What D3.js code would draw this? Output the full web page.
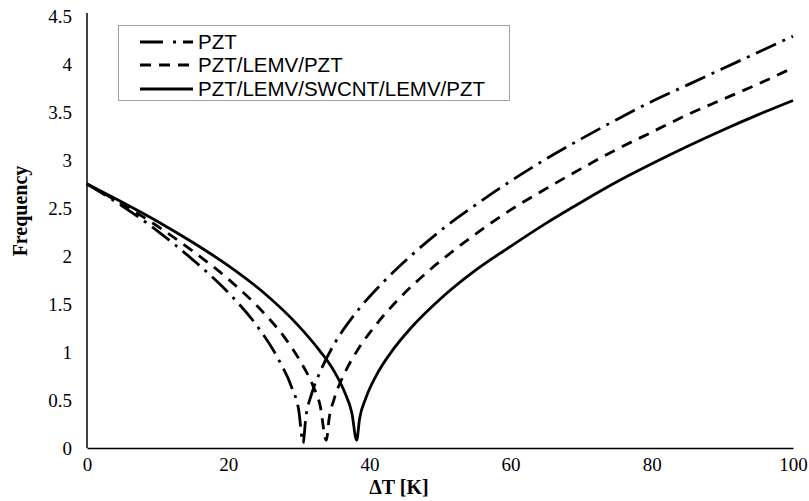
<!DOCTYPE html>
<html lang="en">
<head>
  <meta charset="utf-8">
  <title>Frequency vs temperature rise</title>
  <style>
  body { margin: 0; background: #fff; }
  .axis path { stroke: #000; stroke-width: 1.5px; }
  .axis line { display: none; }
  .axis text { font-family: "Liberation Serif", "Times New Roman", serif; font-size: 19px; fill: #000; }
  .curve { fill: none; stroke: #000; stroke-width: 2.8px; }
  </style>
  <script src="https://cdn.jsdelivr.net/npm/d3@7"></script>
</head>
<body>
  <svg width="809" height="501"></svg>
  <script>
  // [deltaT, frequency]
  var pzt = [
    [0, 2.75], [5, 2.52], [10, 2.26], [15, 1.96], [20, 1.62], [24, 1.28], [27, 0.94],
    [29, 0.63], [30, 0.39], [30.6, 0.05],
    [31, 0.32], [31.8, 0.56], [33, 0.79], [35, 1.08], [38, 1.40], [42, 1.73], [46, 2.01],
    [50, 2.26], [55, 2.53], [60, 2.78], [65, 3.01], [70, 3.22], [75, 3.42], [80, 3.61],
    [85, 3.78], [90, 3.95], [95, 4.12], [100, 4.29]
  ];
  var pztLemv = [
    [0, 2.75], [5, 2.54], [10, 2.31], [15, 2.05], [20, 1.76], [25, 1.41], [28, 1.15],
    [30, 0.93], [32, 0.65], [33, 0.45], [33.9, 0.08],
    [34.3, 0.31], [35, 0.51], [36.5, 0.78], [38.5, 1.04], [41, 1.29], [44, 1.54], [48, 1.82],
    [52, 2.06], [56, 2.28], [60, 2.48], [65, 2.70], [70, 2.91], [75, 3.11], [80, 3.29],
    [85, 3.47], [90, 3.63], [95, 3.79], [100, 3.96]
  ];
  var pztSwcnt = [
    [0, 2.75], [5, 2.56], [10, 2.36], [15, 2.14], [20, 1.90], [25, 1.62], [30, 1.27],
    [33, 1.01], [35, 0.80], [36.5, 0.58], [37.5, 0.37], [38.2, 0.08],
    [38.6, 0.30], [39.5, 0.52], [41, 0.76], [43, 0.99], [46, 1.26], [50, 1.55], [55, 1.85],
    [60, 2.10], [65, 2.34], [70, 2.56], [75, 2.77], [80, 2.96], [85, 3.14], [90, 3.31],
    [95, 3.47], [100, 3.62]
  ];

  var seriesNames = ["PZT", "PZT/LEMV/PZT", "PZT/LEMV/SWCNT/LEMV/PZT"];
  var seriesData = [pzt, pztLemv, pztSwcnt];
  var dashes = ["22,7,3,7", "11,8", null];

  var xTicks = [0, 20, 40, 60, 80, 100];
  var yTicks = [0, 0.5, 1, 1.5, 2, 2.5, 3, 3.5, 4, 4.5];

  var svg = d3.select("svg");

  var x = d3.scaleLinear().domain([0, 100]).range([87, 793]);
  var y = d3.scaleLinear().domain([0, 4.5]).range([448, 16]);

  svg.append("g")
      .attr("class", "axis axis--x")
      .attr("transform", "translate(0,448)")
      .call(d3.axisBottom(x).tickValues(xTicks).tickSize(0).tickSizeOuter(0).tickPadding(10).tickFormat(d3.format("d")));

  svg.append("g")
      .attr("class", "axis axis--y")
      .attr("transform", "translate(87,0)")
      .call(d3.axisLeft(y).tickValues(yTicks).tickSize(0).tickSizeOuter(0).tickPadding(15).tickFormat(function(d) { return d; }));

  svg.select(".axis--y path").attr("d", "M0," + (y(4.5) - 3) + "V" + y(0));

  var line = d3.line()
      .x(function(d) { return x(d[0]); })
      .y(function(d) { return y(d[1]); })
      .curve(d3.curveMonotoneX);

  svg.selectAll(".curve")
      .data(seriesData)
    .enter().append("path")
      .attr("class", "curve")
      .attr("stroke-dasharray", function(d, i) { return dashes[i]; })
      .attr("d", line);

  svg.append("text")
      .attr("transform", "translate(27,211) rotate(-90)")
      .attr("text-anchor", "middle")
      .attr("font-family", "Liberation Serif, Times New Roman, serif")
      .attr("font-weight", "bold")
      .style("font-size", "20px")
      .text("Frequency");

  svg.append("text")
      .attr("x", 399)
      .attr("y", 494)
      .attr("text-anchor", "middle")
      .attr("font-family", "Liberation Serif, Times New Roman, serif")
      .attr("font-weight", "bold")
      .style("font-size", "20px")
      .text("ΔT [K]");

  // legend
  var legend = svg.append("g").attr("class", "legend");
  legend.append("rect")
      .attr("x", 118.5).attr("y", 25.5)
      .attr("width", 391).attr("height", 75)
      .attr("fill", "#fff")
      .attr("stroke", "#a0a0a0");

  var rowY = [42, 65, 89];
  var item = legend.selectAll(".item")
      .data(seriesNames)
    .enter().append("g")
      .attr("class", "item")
      .attr("transform", function(d, i) { return "translate(0," + rowY[i] + ")"; });

  item.append("line")
      .attr("x1", 140).attr("x2", 193)
      .attr("stroke", "#000")
      .attr("stroke-width", 2.8)
      .attr("stroke-dasharray", function(d, i) { return i === 0 ? "23,10,3,7" : dashes[i]; });

  item.append("text")
      .attr("x", 198)
      .attr("dy", "0.35em")
      .attr("font-family", "Liberation Sans, Arial, sans-serif")
      .style("font-size", "20.5px")
      .text(function(d) { return d; });
  </script>
</body>
</html>
